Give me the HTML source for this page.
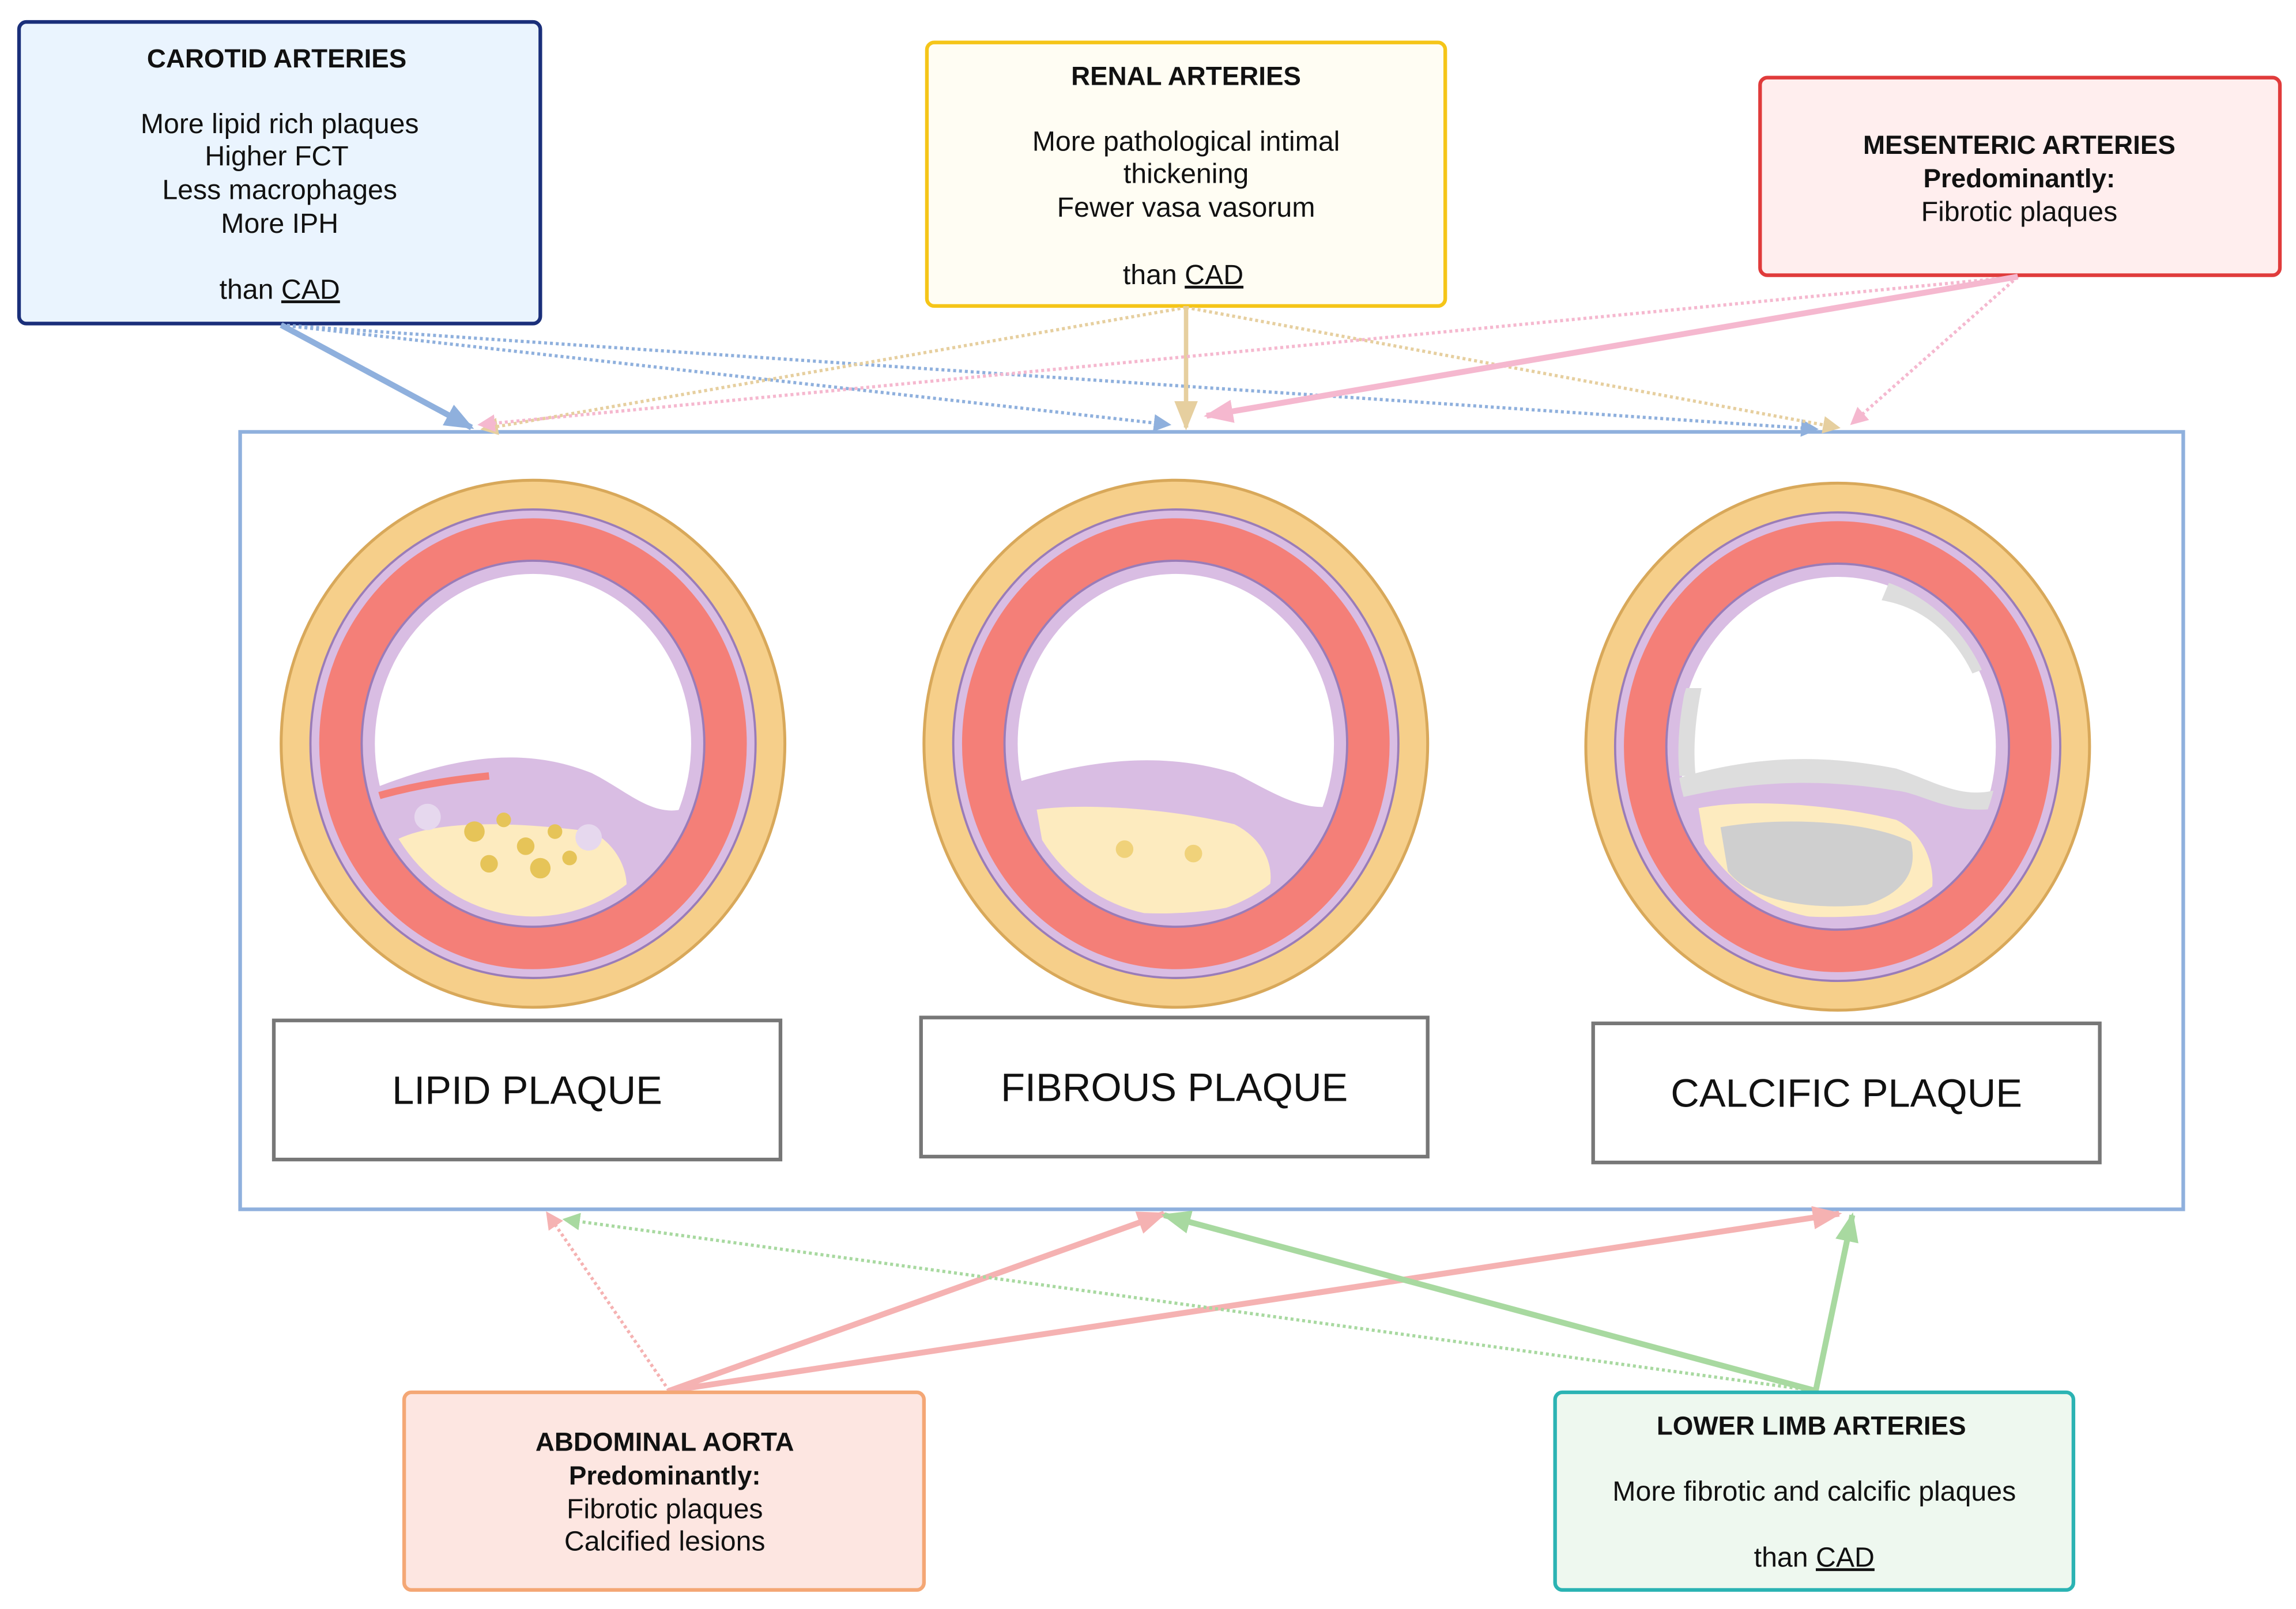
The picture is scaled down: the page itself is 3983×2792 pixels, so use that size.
<!DOCTYPE html>
<html><head><meta charset="utf-8"><style>html,body{margin:0;padding:0;background:#fff}svg{display:block}</style></head><body>
<svg width="3983" height="2792" viewBox="0 0 1568 1099" preserveAspectRatio="none" xmlns="http://www.w3.org/2000/svg" font-family="Liberation Sans, sans-serif">
<defs>
<clipPath id="inner"><ellipse cx="0" cy="0" rx="110" ry="118"/></clipPath>
<marker id="mb" markerWidth="12" markerHeight="12" refX="10" refY="6" orient="auto" markerUnits="userSpaceOnUse" viewBox="0 0 12 12"><path d="M0,0L12,6L0,12z" fill="#8fb0dd"/></marker>
<marker id="mt" markerWidth="12" markerHeight="12" refX="10" refY="6" orient="auto" markerUnits="userSpaceOnUse" viewBox="0 0 12 12"><path d="M0,0L12,6L0,12z" fill="#e6cf9f"/></marker>
<marker id="mp" markerWidth="12" markerHeight="12" refX="10" refY="6" orient="auto" markerUnits="userSpaceOnUse" viewBox="0 0 12 12"><path d="M0,0L12,6L0,12z" fill="#f5b8cf"/></marker>
<marker id="mr" markerWidth="12" markerHeight="12" refX="10" refY="6" orient="auto" markerUnits="userSpaceOnUse" viewBox="0 0 12 12"><path d="M0,0L12,6L0,12z" fill="#f5b2b2"/></marker>
<marker id="mg" markerWidth="12" markerHeight="12" refX="10" refY="6" orient="auto" markerUnits="userSpaceOnUse" viewBox="0 0 12 12"><path d="M0,0L12,6L0,12z" fill="#a8d9a0"/></marker>
<marker id="MB" markerWidth="22" markerHeight="22" refX="18" refY="11" orient="auto" markerUnits="userSpaceOnUse" viewBox="0 0 22 22"><path d="M0,3L20,11L0,19z" fill="#8fb0dd"/></marker>
<marker id="MT" markerWidth="22" markerHeight="22" refX="18" refY="11" orient="auto" markerUnits="userSpaceOnUse" viewBox="0 0 22 22"><path d="M0,3L20,11L0,19z" fill="#e6cf9f"/></marker>
<marker id="MP" markerWidth="22" markerHeight="22" refX="18" refY="11" orient="auto" markerUnits="userSpaceOnUse" viewBox="0 0 22 22"><path d="M0,3L20,11L0,19z" fill="#f5b8cf"/></marker>
<marker id="MR" markerWidth="22" markerHeight="22" refX="18" refY="11" orient="auto" markerUnits="userSpaceOnUse" viewBox="0 0 22 22"><path d="M0,3L20,11L0,19z" fill="#f5b2b2"/></marker>
<marker id="MG" markerWidth="22" markerHeight="22" refX="18" refY="11" orient="auto" markerUnits="userSpaceOnUse" viewBox="0 0 22 22"><path d="M0,3L20,11L0,19z" fill="#a8d9a0"/></marker>
<g id="art">
<ellipse cx="0" cy="0" rx="172" ry="180" fill="#f6cf8a" stroke="#d8a85a" stroke-width="2"/>
<ellipse cx="0" cy="0" rx="152" ry="160" fill="#d9bde3" stroke="#9a7cb8" stroke-width="1.5"/>
<ellipse cx="0" cy="0" rx="146" ry="154" fill="#f47f78"/>
<ellipse cx="0" cy="0" rx="117" ry="125" fill="#d9bde3" stroke="#9a7cb8" stroke-width="1.5"/>
<ellipse cx="0" cy="0" rx="108" ry="116" fill="#fff"/>
</g>
</defs>

<rect x="13" y="15" width="356" height="206" rx="5" fill="#eaf4fe" stroke="#1a2f7a" stroke-width="2.5"/>
<g font-size="19" text-anchor="middle" fill="#111">
<text x="189" y="46" font-weight="bold" font-size="18">CAROTID ARTERIES</text>
<text x="191" y="91">More lipid rich plaques</text>
<text x="189" y="113">Higher FCT</text>
<text x="191" y="136">Less macrophages</text>
<text x="191" y="159">More IPH</text>
<text x="191" y="204">than <tspan text-decoration="underline">CAD</tspan></text>
</g>
<rect x="633" y="29" width="354" height="180" rx="5" fill="#fffdf3" stroke="#f5c518" stroke-width="2.5"/>
<g font-size="19" text-anchor="middle" fill="#111">
<text x="810" y="58" font-weight="bold" font-size="18">RENAL ARTERIES</text>
<text x="810" y="103">More pathological intimal</text>
<text x="810" y="125">thickening</text>
<text x="810" y="148">Fewer vasa vasorum</text>
<text x="808" y="194">than <tspan text-decoration="underline">CAD</tspan></text>
</g>
<rect x="1202" y="53" width="355" height="135" rx="5" fill="#ffeeee" stroke="#e03b3b" stroke-width="2.5"/>
<g font-size="19" text-anchor="middle" fill="#111">
<text x="1379" y="105" font-weight="bold" font-size="18">MESENTERIC ARTERIES</text>
<text x="1379" y="128" font-weight="bold" font-size="18">Predominantly:</text>
<text x="1379" y="151">Fibrotic plaques</text>
</g>

<rect x="164" y="295" width="1327" height="531" fill="#fff" stroke="#8fb0dd" stroke-width="2.5"/>

<g transform="translate(364,508)"><use href="#art"/>
<g clip-path="url(#inner)">
<path d="M-120,35 C-60,10 -10,0 40,20 C70,35 90,60 120,35 L120,130 L-120,130z" fill="#d9bde3"/>
<path d="M-92,65 C-60,50 0,55 40,60 C60,70 70,95 60,112 C20,124 -50,122 -80,108z" fill="#fdebbf"/>
<g fill="#e6c458"><circle cx="-40" cy="60" r="7"/><circle cx="-20" cy="52" r="5"/><circle cx="-5" cy="70" r="6"/><circle cx="15" cy="60" r="5"/><circle cx="-30" cy="82" r="6"/><circle cx="5" cy="85" r="7"/><circle cx="25" cy="78" r="5"/></g>
<circle cx="-72" cy="50" r="9" fill="#e6d8ee"/><circle cx="38" cy="64" r="9" fill="#e6d8ee"/>
<path d="M-120,40 C-90,30 -60,25 -30,22" stroke="#f47f78" stroke-width="5" fill="none"/>
</g></g>
<g transform="translate(803,508)"><use href="#art"/>
<g clip-path="url(#inner)">
<path d="M-120,30 C-60,10 -10,5 40,20 C70,35 90,50 120,40 L120,130 L-120,130z" fill="#d9bde3"/>
<path d="M-95,45 C-60,40 0,45 40,55 C60,65 70,85 62,105 C20,120 -50,120 -85,102z" fill="#fdebbf"/>
<circle cx="-35" cy="72" r="6" fill="#f0d27a"/><circle cx="12" cy="75" r="6" fill="#f0d27a"/>
</g></g>
<g transform="translate(1255,510)"><use href="#art"/>
<g clip-path="url(#inner)">
<path d="M-120,25 C-60,10 -10,5 40,15 C70,25 90,40 120,30 L120,130 L-120,130z" fill="#d9bde3"/>
<path d="M-95,42 C-60,35 0,40 40,50 C60,60 70,85 62,108 C20,120 -50,120 -85,102z" fill="#fdebbf"/>
<path d="M-80,55 C-40,48 20,50 50,65 C55,85 45,100 20,108 C-20,112 -60,105 -75,85z" fill="#cfcfcf"/>
<path d="M-120,25 C-60,5 -10,5 40,15 C70,25 90,40 120,25 L120,40 C80,50 60,32 40,30 C-10,22 -60,22 -120,38z" fill="#ddd"/>
<path d="M35,-112 C70,-100 90,-80 105,-55 L92,-50 C80,-75 60,-95 30,-100z" fill="#ddd"/>
<path d="M-104,-40 C-108,-20 -110,0 -108,20 L-97,20 C-99,0 -97,-20 -93,-40z" fill="#ddd"/>
</g></g>

<g fill="#fff" stroke="#777" stroke-width="2.5">
<rect x="187" y="697" width="346" height="95"/>
<rect x="629" y="695" width="346" height="95"/>
<rect x="1088" y="699" width="346" height="95"/>
</g>
<g font-size="27" text-anchor="middle" fill="#111">
<text x="360" y="754">LIPID PLAQUE</text>
<text x="802" y="752">FIBROUS PLAQUE</text>
<text x="1261" y="756">CALCIFIC PLAQUE</text>
</g>

<g fill="none" stroke-width="2.2">
<line x1="192" y1="222" x2="1240" y2="293" stroke="#8fb0dd" stroke-dasharray="2,2" marker-end="url(#mb)"/>
<line x1="192" y1="222" x2="798" y2="290" stroke="#8fb0dd" stroke-dasharray="2,2" marker-end="url(#mb)"/>
<line x1="192" y1="222" x2="322" y2="292" stroke="#8fb0dd" stroke-width="4" marker-end="url(#MB)"/>
<line x1="810" y1="210" x2="330" y2="293" stroke="#e6cf9f" stroke-dasharray="2,2" marker-end="url(#mt)"/>
<line x1="810" y1="210" x2="1255" y2="292" stroke="#e6cf9f" stroke-dasharray="2,2" marker-end="url(#mt)"/>
<line x1="810" y1="210" x2="810" y2="292" stroke="#e6cf9f" stroke-width="3" marker-end="url(#MT)"/>
<line x1="1378" y1="189" x2="328" y2="290" stroke="#f5b8cf" stroke-dasharray="2,2" marker-end="url(#mp)"/>
<line x1="1378" y1="189" x2="1265" y2="289" stroke="#f5b8cf" stroke-dasharray="2,2" marker-end="url(#mp)"/>
<line x1="1378" y1="189" x2="824" y2="284" stroke="#f5b8cf" stroke-width="4" marker-end="url(#MP)"/>
<line x1="457" y1="950" x2="374" y2="829" stroke="#f5b2b2" stroke-dasharray="2,2" marker-end="url(#mr)"/>
<line x1="457" y1="950" x2="795" y2="829" stroke="#f5b2b2" stroke-width="4" marker-end="url(#MR)"/>
<line x1="457" y1="950" x2="1256" y2="829" stroke="#f5b2b2" stroke-width="4" marker-end="url(#MR)"/>
<line x1="1240" y1="950" x2="386" y2="833" stroke="#a8d9a0" stroke-dasharray="2,2" marker-end="url(#mg)"/>
<line x1="1240" y1="950" x2="795" y2="830" stroke="#a8d9a0" stroke-width="4" marker-end="url(#MG)"/>
<line x1="1240" y1="950" x2="1265" y2="830" stroke="#a8d9a0" stroke-width="4" marker-end="url(#MG)"/>
</g>

<rect x="276" y="951" width="355" height="135" rx="5" fill="#fde6e1" stroke="#f4a775" stroke-width="2.5"/>
<g font-size="19" text-anchor="middle" fill="#111">
<text x="454" y="991" font-weight="bold" font-size="18">ABDOMINAL AORTA</text>
<text x="454" y="1014" font-weight="bold" font-size="18">Predominantly:</text>
<text x="454" y="1037">Fibrotic plaques</text>
<text x="454" y="1059">Calcified lesions</text>
</g>
<rect x="1062" y="951" width="354" height="135" rx="5" fill="#eef8ef" stroke="#2bb3b3" stroke-width="2.5"/>
<g font-size="19" text-anchor="middle" fill="#111">
<text x="1237" y="980" font-weight="bold" font-size="18">LOWER LIMB ARTERIES</text>
<text x="1239" y="1025">More fibrotic and calcific plaques</text>
<text x="1239" y="1070">than <tspan text-decoration="underline">CAD</tspan></text>
</g>
</svg>
</body></html>
